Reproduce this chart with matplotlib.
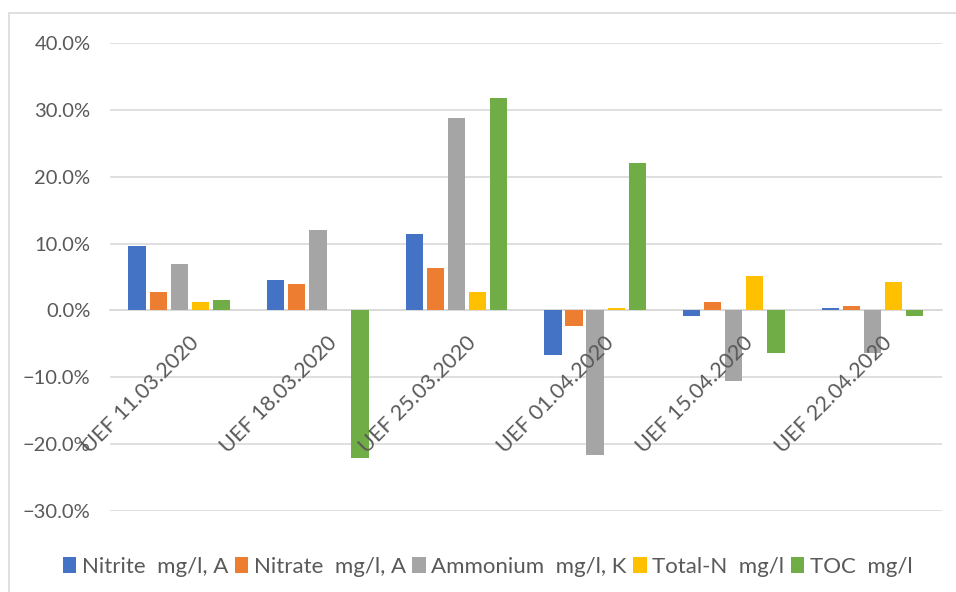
import numpy as np
import matplotlib.pyplot as plt
from matplotlib.ticker import PercentFormatter, MultipleLocator
import matplotlib.transforms as mtransforms

plt.rcParams['font.family'] = ['Lato', 'DejaVu Sans']

dates = ['UEF 11.03.2020', 'UEF 18.03.2020', 'UEF 25.03.2020',
         'UEF 01.04.2020', 'UEF 15.04.2020', 'UEF 22.04.2020']

# relative deviation in percent
nitrite = [9.7, 4.5, 11.5, -6.6, -0.9, 0.4]
nitrate = [2.7, 3.9, 6.3, -2.4, 1.2, 0.7]
ammonium = [6.9, 12.0, 28.8, -21.7, -10.5, -6.3]
total_n = [1.2, 0.0, 2.7, 0.4, 5.1, 4.3]
toc = [1.5, -22.1, 31.8, 22.1, -6.3, -0.9]

series = [nitrite, nitrate, ammonium, total_n, toc]
names = ['Nitrite  mg/l, A', 'Nitrate  mg/l, A', 'Ammonium  mg/l, K',
         'Total-N  mg/l', 'TOC  mg/l']
colors = ['#4472C4', '#ED7D31', '#A5A5A5', '#FFC000', '#70AD47']
txt = '#595959'

fig = plt.figure(figsize=(9.56, 5.92), dpi=100)
ax = fig.add_axes([0.115, 0.137, 0.87, 0.79])

x = np.arange(len(dates))
w = 0.152
for i, (vals, name, c) in enumerate(zip(series, names, colors)):
    ax.bar(x + (i - 2) * w, vals, width=0.125, color=c, label=name, zorder=3)

ax.set_xlim(-0.5, len(dates) - 0.5)
ax.set_ylim(-30, 40)
ax.yaxis.set_major_locator(MultipleLocator(10))
ax.yaxis.set_major_formatter(PercentFormatter(decimals=1))
ax.grid(axis='y', color='#d9d9d9', lw=1.2, zorder=0)
for s in ['top', 'right', 'left']:
    ax.spines[s].set_visible(False)
ax.spines['bottom'].set_position(('data', 0))
ax.spines['bottom'].set_color('#d9d9d9')
ax.spines['bottom'].set_linewidth(1.2)
ax.spines['bottom'].set_zorder(2)
ax.tick_params(axis='both', length=0, colors=txt, labelsize=14.5)
ax.tick_params(axis='y', pad=14)
ax.set_xticks([])

# category labels sit on the zero line, drawn above the bars
offset = mtransforms.ScaledTranslation(0.09, -0.22, fig.dpi_scale_trans)
for xi, d in zip(x, dates):
    ax.text(xi, 0, d, rotation=45, ha='right', va='top', rotation_mode='anchor',
            fontsize=15.5, color=txt, zorder=5,
            transform=ax.transData + offset)

fig.legend(loc='lower center', bbox_to_anchor=(0.51, -0.008), ncol=5, frameon=False,
           fontsize=16, handlelength=0.6, handleheight=0.7, handletextpad=0.25,
           columnspacing=0.3, labelcolor=txt)

# outer chart border
fig.patches.append(plt.Rectangle((0.009, -0.01), 0.995, 0.988, transform=fig.transFigure,
                                 fill=False, edgecolor='#d9d9d9', lw=1.2))

fig.savefig('out.png', dpi=100)
